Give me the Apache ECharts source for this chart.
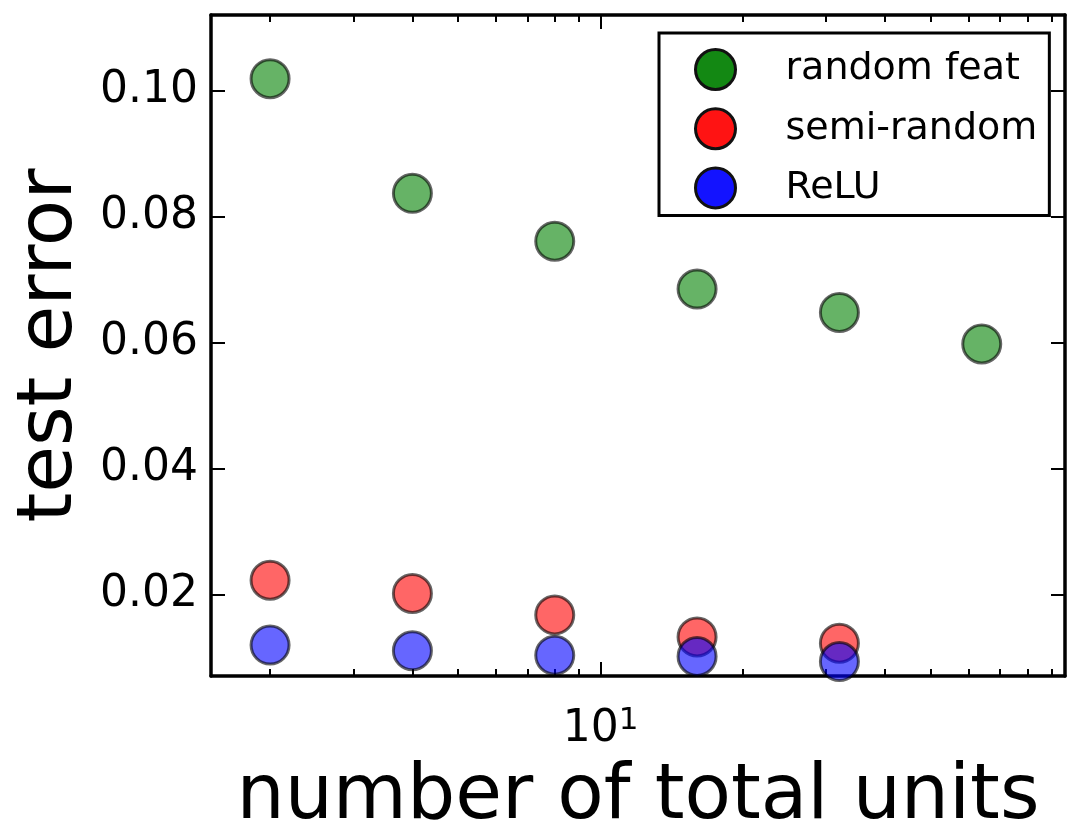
<!DOCTYPE html>
<html>
<head>
<meta charset="utf-8">
<script src="https://cdn.jsdelivr.net/npm/echarts@6/dist/echarts.min.js"></script>
<style>
html,body{margin:0;padding:0;background:#fff;}
#chart{width:1069px;height:829px;}
</style>
</head>
<body>
<div id="chart"></div>
<script>
// ---- data ----
const xUnits = [2, 4, 8, 16, 32, 64];
const randomFeat = [0.1019, 0.0837, 0.0761, 0.0685, 0.0648, 0.0598];
const semiRandom = [0.0223, 0.0202, 0.0168, 0.0133, 0.0123];
const relu = [0.0120, 0.0111, 0.0104, 0.0102, 0.0094];
const seriesNames = ['random feat', 'semi-random', 'ReLU'];
const yTicks = [0.02, 0.04, 0.06, 0.08, 0.10];
const xMajorTicks = [10];
const xMinorTicks = [2, 3, 4, 5, 6, 7, 8, 9, 20, 30, 40, 50, 60, 70, 80, 90];

const FONT = 'DejaVu Sans';
const chart = echarts.init(document.getElementById('chart'), null, {renderer: 'canvas'});

function pairs(ys) { return ys.map((y, i) => [xUnits[i], y]); }

function xAxisDef(position, ticks, len, showLine, showLabel) {
  return {
    type: 'log', logBase: 10, min: 1.5, max: 96, position: position,
    axisLine: {show: showLine, onZero: false, lineStyle: {color: '#000', width: 3.5}},
    axisTick: {show: true, inside: true, length: len, customValues: ticks, lineStyle: {color: '#000', width: 2}},
    axisLabel: showLabel ? {
      show: true, customValues: ticks, margin: 29,
      formatter: function (v) { return '{b|10}{s|1}'; },
      rich: {
        b: {fontSize: 44, fontFamily: FONT, color: '#000', lineHeight: 50},
        s: {fontSize: 31, fontFamily: FONT, color: '#000', verticalAlign: 'top', lineHeight: 22}
      }
    } : {show: false},
    splitLine: {show: false}, minorTick: {show: false}, minorSplitLine: {show: false}
  };
}

const xAxes = [
  Object.assign(xAxisDef('bottom', xMajorTicks, 14, true, true), {
    name: 'number of total units', nameLocation: 'middle', nameGap: 84,
    nameTextStyle: {fontSize: 76, fontFamily: FONT, color: '#000'}
  }),
  xAxisDef('bottom', xMinorTicks, 7, false, false),
  xAxisDef('top', xMajorTicks, 14, true, false),
  xAxisDef('top', xMinorTicks, 7, false, false)
];

const yAxes = [
  {
    type: 'value', min: 0.0071, max: 0.112, position: 'left',
    name: 'test error', nameLocation: 'middle', nameGap: 113, nameRotate: 90,
    nameTextStyle: {fontSize: 76, fontFamily: FONT, color: '#000'},
    axisLine: {show: true, onZero: false, lineStyle: {color: '#000', width: 3.5}},
    axisTick: {show: true, inside: true, length: 14, customValues: yTicks, lineStyle: {color: '#000', width: 2}},
    axisLabel: {show: true, customValues: yTicks, margin: 13, fontSize: 44, fontFamily: FONT, color: '#000',
      formatter: function (v) { return v.toFixed(2); }},
    splitLine: {show: false}
  },
  {
    type: 'value', min: 0.0071, max: 0.112, position: 'right',
    axisLine: {show: true, onZero: false, lineStyle: {color: '#000', width: 3.5}},
    axisTick: {show: true, inside: true, length: 14, customValues: yTicks, lineStyle: {color: '#000', width: 2}},
    axisLabel: {show: false},
    splitLine: {show: false}
  }
];

const fills = ['rgb(0,128,0)', 'rgb(255,0,0)', 'rgb(0,0,255)'];
const legendFills = ['#138813', '#ff1313', '#1313ff'];
const seriesData = [pairs(randomFeat), pairs(semiRandom), pairs(relu)];

const series = seriesNames.map((name, i) => ({
  name: name, type: 'scatter', xAxisIndex: 0, yAxisIndex: 0,
  data: seriesData[i], symbol: 'circle', symbolSize: 38,
  itemStyle: {color: fills[i], opacity: 0.6, borderColor: '#000', borderWidth: 3},
  emphasis: {disabled: true}, z: 2 + i
}));

chart.setOption({
  animation: false,
  backgroundColor: '#fff',
  grid: {left: 211, right: 4, top: 15, bottom: 153, containLabel: false, outerBoundsMode: 'none'},
  xAxis: xAxes,
  yAxis: yAxes,
  legend: {
    orient: 'vertical', left: 659, top: 33,
    itemWidth: 40, itemHeight: 40, itemGap: 16.2,
    padding: [15, 12, 6, 35],
    borderColor: '#000', borderWidth: 3, borderRadius: 0, backgroundColor: '#fff',
    icon: 'circle',
    textStyle: {fontSize: 38, fontFamily: FONT, color: '#000', padding: [0, 0, 0, 45]},
    data: seriesNames.map((n, i) => ({name: n, icon: 'circle',
      itemStyle: {color: legendFills[i], opacity: 1, borderColor: '#111', borderWidth: 3}})),
    selectedMode: false
  },
  series: series
});
</script>
</body>
</html>
